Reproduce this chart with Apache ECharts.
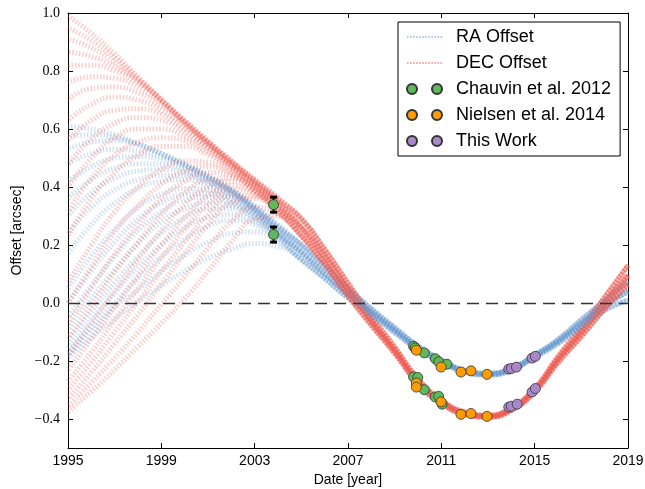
<!DOCTYPE html>
<html>
<head>
<meta charset="utf-8">
<title>RA / DEC offsets</title>
<script src="https://cdn.jsdelivr.net/npm/echarts@6.0.0/dist/echarts.min.js"></script>
<style>
  html, body { margin: 0; padding: 0; background: #fff; }
  #chart { width: 645px; height: 489px; }
</style>
</head>
<body>
<div id="chart"></div>
<script>
// sample epochs of the orbit curves
const years = [1995, 1996, 1997, 1998, 1999, 2000, 2001, 2002, 2003, 2004,
  2005, 2006, 2007, 2008, 2009, 2010, 2011, 2012, 2013, 2014, 2015, 2016, 2017, 2018, 2019]

// RA offset curves, 1995-2004 part (they fan out before 2004)
const raEarly = [
  [0.61, 0.60, 0.58, 0.55, 0.515, 0.475, 0.435, 0.39, 0.335, 0.27],
  [0.575, 0.58, 0.57, 0.548, 0.515, 0.478, 0.437, 0.39, 0.332, 0.267],
  [0.53, 0.555, 0.56, 0.545, 0.515, 0.48, 0.44, 0.39, 0.33, 0.265],
  [0.48, 0.515, 0.53, 0.525, 0.505, 0.475, 0.435, 0.388, 0.328, 0.262],
  [0.42, 0.47, 0.50, 0.505, 0.495, 0.47, 0.43, 0.385, 0.325, 0.26],
  [0.36, 0.425, 0.465, 0.48, 0.478, 0.46, 0.425, 0.382, 0.322, 0.255],
  [0.30, 0.38, 0.43, 0.455, 0.46, 0.45, 0.42, 0.38, 0.32, 0.25],
  [0.24, 0.33, 0.39, 0.425, 0.44, 0.44, 0.415, 0.375, 0.318, 0.248],
  [0.17, 0.27, 0.345, 0.395, 0.42, 0.425, 0.405, 0.37, 0.315, 0.245],
  [0.05, 0.16, 0.255, 0.33, 0.375, 0.395, 0.39, 0.36, 0.31, 0.24],
  [0.0, 0.11, 0.21, 0.29, 0.345, 0.375, 0.378, 0.352, 0.305, 0.238],
  [-0.05, 0.06, 0.16, 0.25, 0.315, 0.355, 0.365, 0.345, 0.30, 0.235],
  [-0.09, 0.015, 0.115, 0.205, 0.28, 0.325, 0.345, 0.335, 0.295, 0.232],
  [-0.13, -0.03, 0.07, 0.16, 0.24, 0.295, 0.325, 0.325, 0.29, 0.23],
  [-0.155, -0.06, 0.035, 0.125, 0.2, 0.26, 0.295, 0.305, 0.28, 0.225],
  [-0.17, -0.085, 0.0, 0.085, 0.16, 0.22, 0.265, 0.285, 0.27, 0.22],
  [-0.18, -0.1, -0.015, 0.045, 0.11, 0.165, 0.21, 0.24, 0.245, 0.21],
  [-0.19, -0.12, -0.055, 0.005, 0.06, 0.11, 0.155, 0.185, 0.205, 0.195]
]
// RA offset, 2005-2019 part (tight band)
const raTailA = [0.20, 0.127, 0.05, -0.02, -0.085, -0.148, -0.196, -0.232, -0.242, -0.225, -0.179, -0.126, -0.058, 0.008, 0.075]
const raTailB = [0.175, 0.103, 0.032, -0.031, -0.094, -0.155, -0.20, -0.235, -0.245, -0.228, -0.183, -0.133, -0.07, -0.01, 0.04]
const raTailC = [0.15, 0.085, 0.018, -0.04, -0.102, -0.16, -0.204, -0.238, -0.248, -0.232, -0.187, -0.14, -0.08, -0.025, 0.01]
const raTailPick = [0, 0, 0, 0, 0, 0, 1, 1, 1, 1, 1, 1, 1, 2, 2, 2, 2, 2]

// DEC offset curves, 1995-2004 part
const decEarly = [
  [0.99, 0.93, 0.86, 0.78, 0.70, 0.62, 0.55, 0.485, 0.425, 0.365],
  [0.95, 0.905, 0.845, 0.775, 0.70, 0.622, 0.552, 0.487, 0.424, 0.362],
  [0.91, 0.88, 0.83, 0.77, 0.70, 0.625, 0.555, 0.49, 0.425, 0.36],
  [0.865, 0.85, 0.815, 0.765, 0.70, 0.628, 0.558, 0.49, 0.423, 0.357],
  [0.82, 0.82, 0.80, 0.76, 0.70, 0.63, 0.56, 0.49, 0.42, 0.355],
  [0.76, 0.78, 0.775, 0.745, 0.69, 0.625, 0.555, 0.485, 0.418, 0.352],
  [0.70, 0.74, 0.745, 0.725, 0.68, 0.62, 0.55, 0.48, 0.415, 0.35],
  [0.63, 0.685, 0.71, 0.70, 0.665, 0.61, 0.545, 0.478, 0.412, 0.347],
  [0.56, 0.63, 0.665, 0.67, 0.65, 0.60, 0.54, 0.475, 0.41, 0.345],
  [0.48, 0.565, 0.62, 0.64, 0.63, 0.59, 0.535, 0.472, 0.408, 0.342],
  [0.40, 0.50, 0.57, 0.60, 0.60, 0.575, 0.53, 0.47, 0.405, 0.34],
  [0.315, 0.43, 0.51, 0.555, 0.57, 0.56, 0.52, 0.465, 0.402, 0.337],
  [0.23, 0.36, 0.45, 0.51, 0.54, 0.54, 0.51, 0.46, 0.40, 0.335],
  [0.07, 0.20, 0.315, 0.40, 0.46, 0.49, 0.485, 0.45, 0.395, 0.33],
  [0.0, 0.125, 0.245, 0.335, 0.41, 0.455, 0.47, 0.445, 0.392, 0.328],
  [-0.07, 0.05, 0.17, 0.27, 0.36, 0.42, 0.45, 0.44, 0.39, 0.325],
  [-0.12, -0.01, 0.105, 0.21, 0.305, 0.38, 0.425, 0.43, 0.388, 0.323],
  [-0.18, -0.07, 0.04, 0.15, 0.25, 0.34, 0.40, 0.42, 0.385, 0.32],
  [-0.23, -0.125, -0.015, 0.095, 0.2, 0.295, 0.37, 0.405, 0.38, 0.318],
  [-0.27, -0.17, -0.06, 0.05, 0.155, 0.255, 0.34, 0.39, 0.375, 0.315],
  [-0.30, -0.205, -0.10, 0.005, 0.11, 0.21, 0.305, 0.37, 0.368, 0.312],
  [-0.33, -0.24, -0.14, -0.04, 0.065, 0.17, 0.27, 0.345, 0.36, 0.31],
  [-0.355, -0.275, -0.19, -0.1, -0.005, 0.09, 0.19, 0.28, 0.33, 0.305],
  [-0.375, -0.305, -0.23, -0.15, -0.07, 0.015, 0.11, 0.21, 0.29, 0.30]
]
const decTailA = [0.29, 0.185, 0.068, -0.046, -0.152, -0.261, -0.334, -0.376, -0.387, -0.36, -0.294, -0.185, -0.085, 0.02, 0.13]
const decTailB = [0.26, 0.16, 0.047, -0.062, -0.163, -0.27, -0.34, -0.38, -0.39, -0.365, -0.30, -0.195, -0.10, 0.0, 0.095]
const decTailC = [0.232, 0.135, 0.025, -0.076, -0.173, -0.278, -0.346, -0.384, -0.393, -0.37, -0.306, -0.205, -0.115, -0.02, 0.065]
const decTailPick = [0, 0, 0, 0, 0, 0, 0, 1, 1, 1, 1, 1, 1, 1, 1, 1, 2, 2, 2, 2, 2, 2, 2, 2]

// measured astrometry [year, offset]
const chauvinRA = [[2003.81, 0.236], [2009.81, -0.149], [2009.88, -0.155], [2010.27, -0.172], [2010.74, -0.192], [2010.89, -0.203], [2011.24, -0.211]]
const chauvinDEC = [[2003.81, 0.339], [2009.81, -0.255], [2009.99, -0.257], [2010.27, -0.299], [2010.74, -0.324], [2010.89, -0.322], [2011.03, -0.349]]
const nielsenRA = [[2009.93, -0.163], [2010.99, -0.221], [2011.84, -0.238], [2012.27, -0.234], [2012.96, -0.246]]
const nielsenDEC = [[2009.93, -0.276], [2009.93, -0.290], [2010.99, -0.341], [2011.84, -0.384], [2012.27, -0.381], [2012.96, -0.391]]
const thisWorkRA = [[2013.89, -0.228], [2014.0, -0.226], [2014.22, -0.221], [2014.89, -0.19], [2015.03, -0.184]]
const thisWorkDEC = [[2013.89, -0.359], [2014.0, -0.356], [2014.25, -0.349], [2014.89, -0.307], [2015.03, -0.295]]
// [year, offset, error] of the 2003 epoch
const errorBars = [[2003.81, 0.236, 0.026], [2003.81, 0.339, 0.026]]

const xTicks = [1995, 1999, 2003, 2007, 2011, 2015, 2019]
const yTicks = [-0.4, -0.2, 0.0, 0.2, 0.4, 0.6, 0.8, 1.0]

const raColor = '#6b9bd2'
const decColor = '#ee6055'
const twoDots = 'path://M0,5A5,5,0,1,1,10,5A5,5,0,1,1,0,5ZM25,5A5,5,0,1,1,35,5A5,5,0,1,1,25,5Z'
let dotRow = 'path://'
for (let k = 0; k < 12; k++) dotRow += 'M' + (k * 3) + ',0h1.5v1.5h-1.5z'

const chart = echarts.init(document.getElementById('chart'))

const curveSeries = (name, color, vals, i) => ({
  name,
  type: 'line',
  data: years.map((y, k) => [y, vals[k]]),
  smooth: true,
  symbol: 'none',
  silent: true,
  z: 1,
  itemStyle: { color },
  lineStyle: { color, width: 5, type: [1.5, 1.8], dashOffset: (i * 0.7) % 3.3, opacity: 0.3 }
})

const series = []
const raTails = [raTailA, raTailB, raTailC]
const decTails = [decTailA, decTailB, decTailC]
for (let i = 0; i < Math.max(raEarly.length, decEarly.length); i++) {
  if (i < raEarly.length) {
    series.push(curveSeries('RA Offset', raColor, raEarly[i].concat(raTails[raTailPick[i]]), i))
  }
  if (i < decEarly.length) {
    series.push(curveSeries('DEC Offset', decColor, decEarly[i].concat(decTails[decTailPick[i]]), i))
  }
}

series.push({
  type: 'custom',
  data: errorBars,
  silent: true,
  z: 4,
  renderItem: (params, api) => {
    const x = api.value(0), y = api.value(1), e = api.value(2)
    const top = api.coord([x, y + e])
    const bot = api.coord([x, y - e])
    const st = { stroke: '#000', lineWidth: 2 }
    const cap = { stroke: '#000', lineWidth: 3 }
    return {
      type: 'group',
      children: [
        { type: 'line', shape: { x1: top[0], y1: top[1], x2: bot[0], y2: bot[1] }, style: st },
        { type: 'line', shape: { x1: top[0] - 3.5, y1: top[1], x2: top[0] + 3.5, y2: top[1] }, style: cap },
        { type: 'line', shape: { x1: bot[0] - 3.5, y1: bot[1], x2: bot[0] + 3.5, y2: bot[1] }, style: cap }
      ]
    }
  }
})

const pointSeries = (name, color, data) => ({
  name,
  type: 'scatter',
  data,
  symbol: 'circle',
  symbolSize: 10,
  z: 5,
  itemStyle: { color, borderColor: '#333', borderWidth: 0.8, opacity: 1 }
})

const chauvin = pointSeries('Chauvin et al. 2012', '#5fb85c', chauvinRA.concat(chauvinDEC))
chauvin.markLine = {
  silent: true,
  symbol: 'none',
  label: { show: false },
  lineStyle: { color: '#333', type: [12, 7], width: 1.3 },
  data: [{ yAxis: 0 }]
}
series.push(chauvin)
series.push(pointSeries('Nielsen et al. 2014', '#ff9d00', nielsenRA.concat(nielsenDEC)))
series.push(pointSeries('This Work', '#a988c9', thisWorkRA.concat(thisWorkDEC)))

const frame = { show: true, onZero: false, lineStyle: { color: '#000', width: 1 } }
const sansText = { fontFamily: 'Liberation Sans', fontSize: 14, color: '#000' }

const option = {
  animation: false,
  backgroundColor: '#fff',
  grid: { left: 68, right: 17, top: 13, bottom: 41, outerBoundsMode: 'none' },
  legend: {
    orient: 'vertical',
    left: 398,
    top: 22,
    padding: [6, 9, 6, 8],
    itemWidth: 35,
    itemHeight: 10,
    itemGap: 8,
    symbolKeepAspect: true,
    borderColor: '#000',
    borderWidth: 1,
    borderRadius: 0,
    backgroundColor: '#fff',
    selectedMode: false,
    textStyle: { fontFamily: 'Liberation Sans', fontSize: 18, color: '#000', lineHeight: 18, padding: [0, 0, 0, 9] },
    data: [
      { name: 'RA Offset', icon: dotRow, itemStyle: { color: raColor, opacity: 0.75, borderWidth: 0 } },
      { name: 'DEC Offset', icon: dotRow, itemStyle: { color: decColor, opacity: 0.75, borderWidth: 0 } },
      { name: 'Chauvin et al. 2012', icon: twoDots },
      { name: 'Nielsen et al. 2014', icon: twoDots },
      { name: 'This Work', icon: twoDots }
    ]
  },
  xAxis: [
    {
      type: 'value',
      min: 1995,
      max: 2019,
      position: 'bottom',
      name: 'Date [year]',
      nameLocation: 'middle',
      nameGap: 25,
      nameTextStyle: sansText,
      axisLine: frame,
      axisTick: { show: true, inside: true, length: 5, customValues: xTicks, lineStyle: { color: '#000' } },
      axisLabel: { customValues: xTicks, margin: 6, formatter: v => String(v), ...sansText },
      splitLine: { show: false }
    },
    {
      type: 'value',
      min: 1995,
      max: 2019,
      position: 'top',
      axisLine: frame,
      axisTick: { show: true, inside: true, length: 5, customValues: xTicks, lineStyle: { color: '#000' } },
      axisLabel: { show: false },
      splitLine: { show: false }
    }
  ],
  yAxis: [
    {
      type: 'value',
      min: -0.5,
      max: 1.0,
      position: 'left',
      name: 'Offset [arcsec]',
      nameLocation: 'middle',
      nameGap: 44,
      nameTextStyle: sansText,
      axisLine: frame,
      axisTick: { show: true, inside: true, length: 5, customValues: yTicks, lineStyle: { color: '#000' } },
      axisLabel: {
        customValues: yTicks,
        margin: 8,
        fontFamily: 'Liberation Serif',
        fontSize: 14,
        color: '#000',
        formatter: v => (v < -1e-9 ? '\u2212' : '') + Math.abs(v).toFixed(1)
      },
      splitLine: { show: false }
    },
    {
      type: 'value',
      min: -0.5,
      max: 1.0,
      position: 'right',
      axisLine: frame,
      axisTick: { show: true, inside: true, length: 5, customValues: yTicks, lineStyle: { color: '#000' } },
      axisLabel: { show: false },
      splitLine: { show: false }
    }
  ],
  series
}

chart.setOption(option)
window.addEventListener('resize', () => chart.resize())
</script>
</body>
</html>
